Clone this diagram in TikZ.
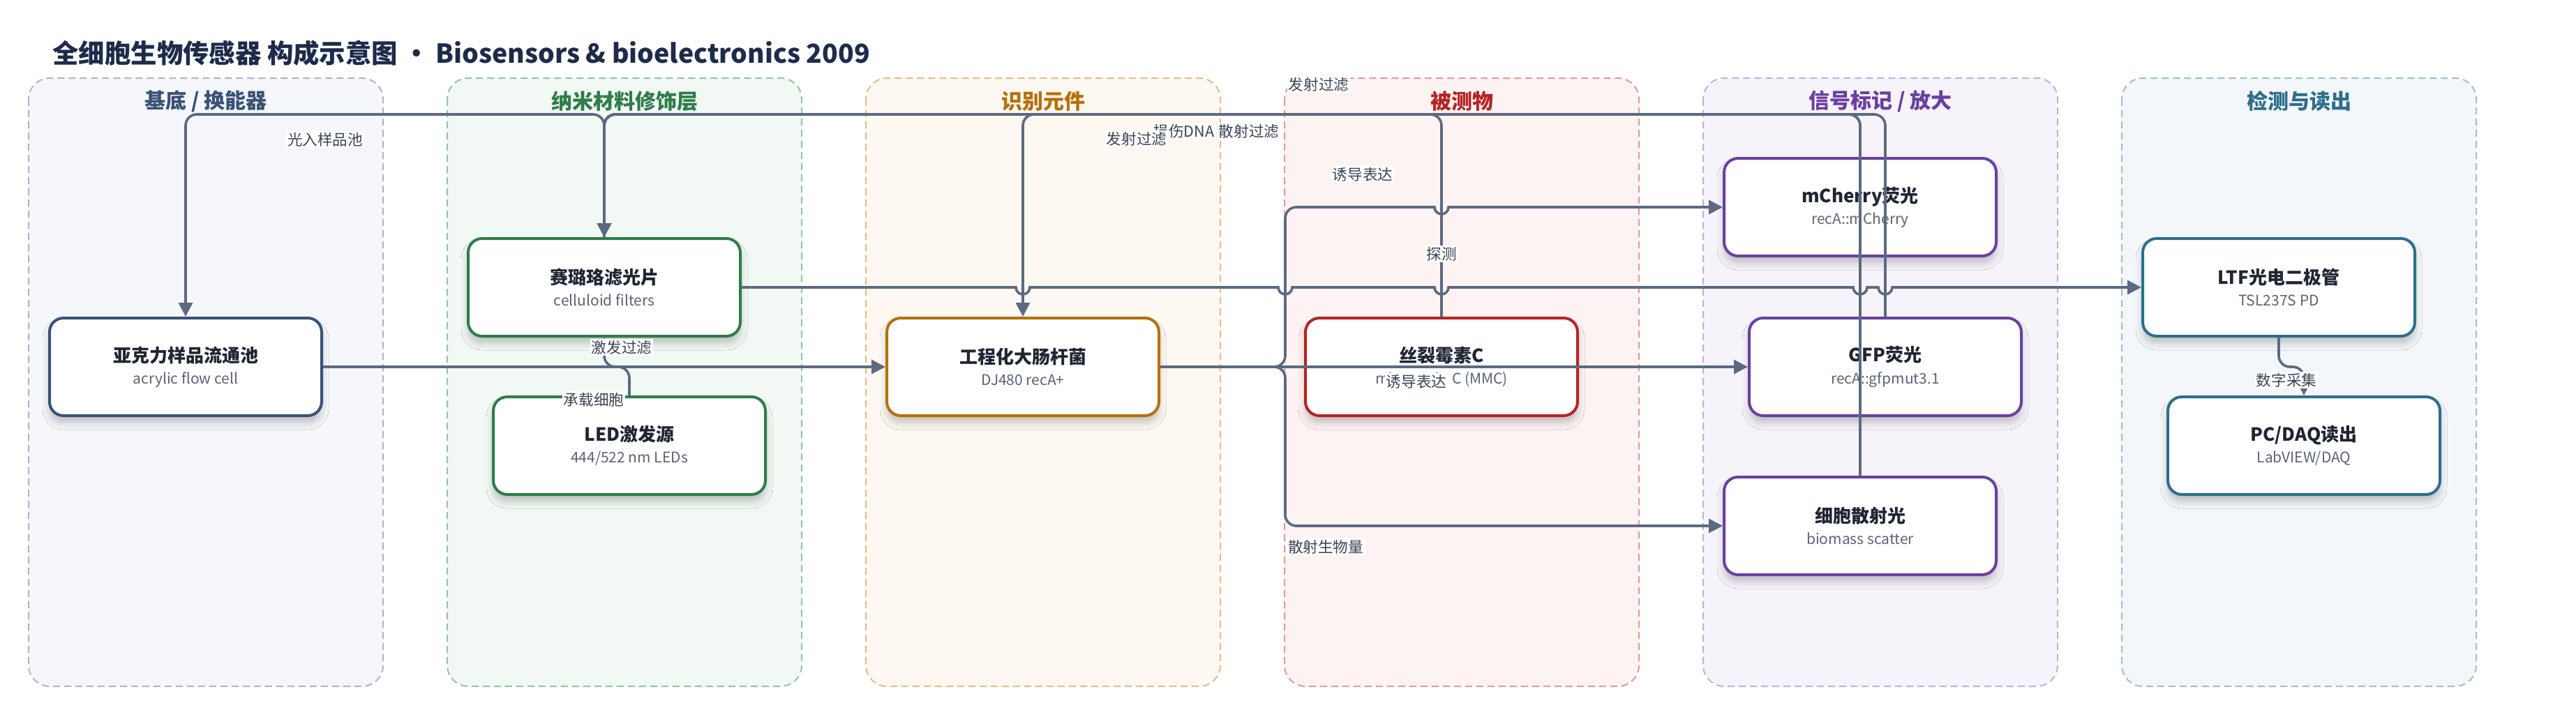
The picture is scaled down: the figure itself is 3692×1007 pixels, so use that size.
\documentclass[tikz,border=0pt]{standalone}
\usepackage{fontspec}
\setmainfont{Noto Sans CJK SC}
\usepackage{xcolor}
\usetikzlibrary{arrows.meta,calc,shadows.blur}

\definecolor{edgec}{HTML}{5B6A82}
\definecolor{inkc}{HTML}{1F2633}
\definecolor{subc}{HTML}{5A6475}
\definecolor{lblc}{HTML}{3A4455}
\definecolor{titlec}{HTML}{1E2B4A}
% lane colours
\definecolor{laneAf}{HTML}{F5F7FB}\definecolor{laneAd}{HTML}{A9B6CB}\definecolor{laneAt}{HTML}{3A5278}
\definecolor{laneBf}{HTML}{F2F8F4}\definecolor{laneBd}{HTML}{93C5A2}\definecolor{laneBt}{HTML}{2E7D4A}
\definecolor{laneCf}{HTML}{FDF8F1}\definecolor{laneCd}{HTML}{E3BE84}\definecolor{laneCt}{HTML}{B5700C}
\definecolor{laneDf}{HTML}{FDF3F2}\definecolor{laneDd}{HTML}{E49A98}\definecolor{laneDt}{HTML}{B52424}
\definecolor{laneEf}{HTML}{F7F3FB}\definecolor{laneEd}{HTML}{C3AEE0}\definecolor{laneEt}{HTML}{6B3FA0}
\definecolor{laneFf}{HTML}{F3F7F9}\definecolor{laneFd}{HTML}{9DBFCE}\definecolor{laneFt}{HTML}{2E6E8C}

\newcommand{\blkhead}[1]{{\bfseries\color{inkc}#1}}
\newcommand{\blksub}[1]{{\fontsize{10.5pt}{12pt}\selectfont\color{subc}#1}}

\begin{document}
\begin{tikzpicture}[x=0.5pt,y=-0.5pt,
    lanebox/.style={line width=1pt, dash pattern=on 5pt off 3pt, rounded corners=15pt},
    lanehead/.style={font=\fontsize{15pt}{18pt}\selectfont\bfseries, text=#1},
    blk/.style={draw=#1, line width=2pt, rounded corners=10pt, fill=white,
        minimum width=195pt, minimum height=70pt, align=center,
        font=\fontsize{13pt}{15.6pt}\selectfont,
        blur shadow={shadow xshift=0pt, shadow yshift=-5pt, shadow blur radius=5pt, shadow opacity=22}},
    conn/.style={draw=edgec, line width=1.8pt, rounded corners=8pt, -{Triangle[length=10pt,width=10pt]}},
    lbl/.style={fill=white, inner sep=1pt, text=lblc, font=\fontsize{10.8pt}{13pt}\selectfont}]
    \useasboundingbox (0,0) rectangle (3692,1007);

    % Title
    \node[anchor=west, inner sep=0pt, text=titlec, font=\fontsize{18.7pt}{23pt}\selectfont\bfseries] (title) at (75,76)
        {全细胞生物传感器 构成示意图 • Biosensors \& bioelectronics 2009};

    % Lanes
    \foreach \k/\fc/\dc in {0/laneAf/laneAd, 1/laneBf/laneBd, 2/laneCf/laneCd,
                            3/laneDf/laneDd, 4/laneEf/laneEd, 5/laneFf/laneFd}
        \filldraw[lanebox, fill=\fc, draw=\dc] ({41+600*\k},112) rectangle ++(508,872);

    \node[lanehead=laneAt] (hA) at (295,145) {基底 / 换能器};
    \node[lanehead=laneBt] (hB) at (895,145) {纳米材料修饰层};
    \node[lanehead=laneCt] (hC) at (1495,145) {识别元件};
    \node[lanehead=laneDt] (hD) at (2095,145) {被测物};
    \node[lanehead=laneEt] (hE) at (2695,145) {信号标记 / 放大};
    \node[lanehead=laneFt] (hF) at (3295,145) {检测与读出};

    % Blocks
    \node[blk=laneAt] (flow) at (266,526) {\blkhead{亚克力样品流通池}\\\blksub{acrylic flow cell}};
    \node[blk=laneBt] (filt) at (866,412) {\blkhead{赛璐珞滤光片}\\\blksub{celluloid filters}};
    \node[blk=laneBt] (led) at (902,639) {\blkhead{LED激发源}\\\blksub{444/522 nm LEDs}};
    \node[blk=laneCt] (ecoli) at (1466,526) {\blkhead{工程化大肠杆菌}\\\blksub{DJ480 recA+}};
    \node[blk=laneDt] (mmc) at (2066,526) {\blkhead{丝裂霉素C}\\\blksub{mitomycin C (MMC)}};
    \node[blk=laneEt] (mch) at (2666,297) {\blkhead{mCherry荧光}\\\blksub{recA::mCherry}};
    \node[blk=laneEt] (gfp) at (2702,526) {\blkhead{GFP荧光}\\\blksub{recA::gfpmut3.1}};
    \node[blk=laneEt] (scat) at (2666,754) {\blkhead{细胞散射光}\\\blksub{biomass scatter}};
    \node[blk=laneFt] (ltf) at (3266,412) {\blkhead{LTF光电二极管}\\\blksub{TSL237S PD}};
    \node[blk=laneFt] (pc) at (3302,639) {\blkhead{PC/DAQ读出}\\\blksub{LabVIEW/DAQ}};

    % Connectors
    \coordinate (trk) at (0,164);
    \coordinate (fork) at (1842,526);
    \draw[conn] (filt.north) -- (filt.north |- trk) -- (flow.north |- trk) -- (flow.north);
    \draw[conn] (led.north) -- (led.north |- flow.east) -- (filt.south |- flow.east) -- (filt.south);
    \draw[conn] (flow.east) -- (ecoli.west);
    \draw[conn] (mmc.north) -- (mmc.north |- trk) -- (ecoli.north |- trk) -- (ecoli.north);
    \draw[conn] (ecoli.east) -- (fork) -- (fork |- mch.west) [sharp corners]
        -- ($(mmc.north |- mch.west)+(-5pt,0)$) arc[start angle=180,end angle=360,radius=5pt]
        -- (mch.west);
    \draw[conn] (ecoli.east) -- (gfp.west);
    \draw[conn] (ecoli.east) -- (fork) -- (fork |- scat.west) -- (scat.west);
    \draw[conn] (mch.north) -- (mch.north |- trk) -- (filt.north |- trk) -- (filt.north);
    \draw[conn] (gfp.north) -- (gfp.north |- trk) -- (filt.north |- trk) -- (filt.north);
    \draw[conn] (scat.north) -- (scat.north |- trk) -- (filt.north |- trk) -- (filt.north);
    \draw[conn, sharp corners] (filt.east)
        -- ($(ecoli.north |- filt.east)+(-5pt,0)$) arc[start angle=180,end angle=360,radius=5pt]
        -- ($(fork |- filt.east)+(-5pt,0)$) arc[start angle=180,end angle=360,radius=5pt]
        -- ($(mmc.north |- filt.east)+(-5pt,0)$) arc[start angle=180,end angle=360,radius=5pt]
        -- ($(scat.north |- filt.east)+(-5pt,0)$) arc[start angle=180,end angle=360,radius=5pt]
        -- ($(gfp.north |- filt.east)+(-5pt,0)$) arc[start angle=180,end angle=360,radius=5pt]
        -- (ltf.west);
    \draw[conn] (ltf.south) -- (ltf.south |- flow.east) -- (pc.north |- flow.east) -- (pc.north);

    % Connector labels
    \node[lbl] (tLight) at (466,200) {光入样品池};
    \node[lbl] (tExc) at (891,498) {激发过滤};
    \node[lbl] (tCarry) at (851,573) {承载细胞};
    \node[lbl] (tDna) at (1697,188) {损伤DNA};
    \node[lbl] (tEmA) at (1629,199) {发射过滤};
    \node[lbl] (tSc) at (1790,188) {散射过滤};
    \node[lbl] (tEmB) at (1890,121) {发射过滤};
    \node[lbl] (tIndA) at (1953,250) {诱导表达};
    \node[lbl] (tDet) at (2066,364) {探测};
    \node[lbl] (tIndB) at (2030,547) {诱导表达};
    \node[lbl] (tBio) at (1900,784) {散射生物量};
    \node[lbl] (tDaq) at (3277,545) {数字采集};
\end{tikzpicture}
\end{document}
